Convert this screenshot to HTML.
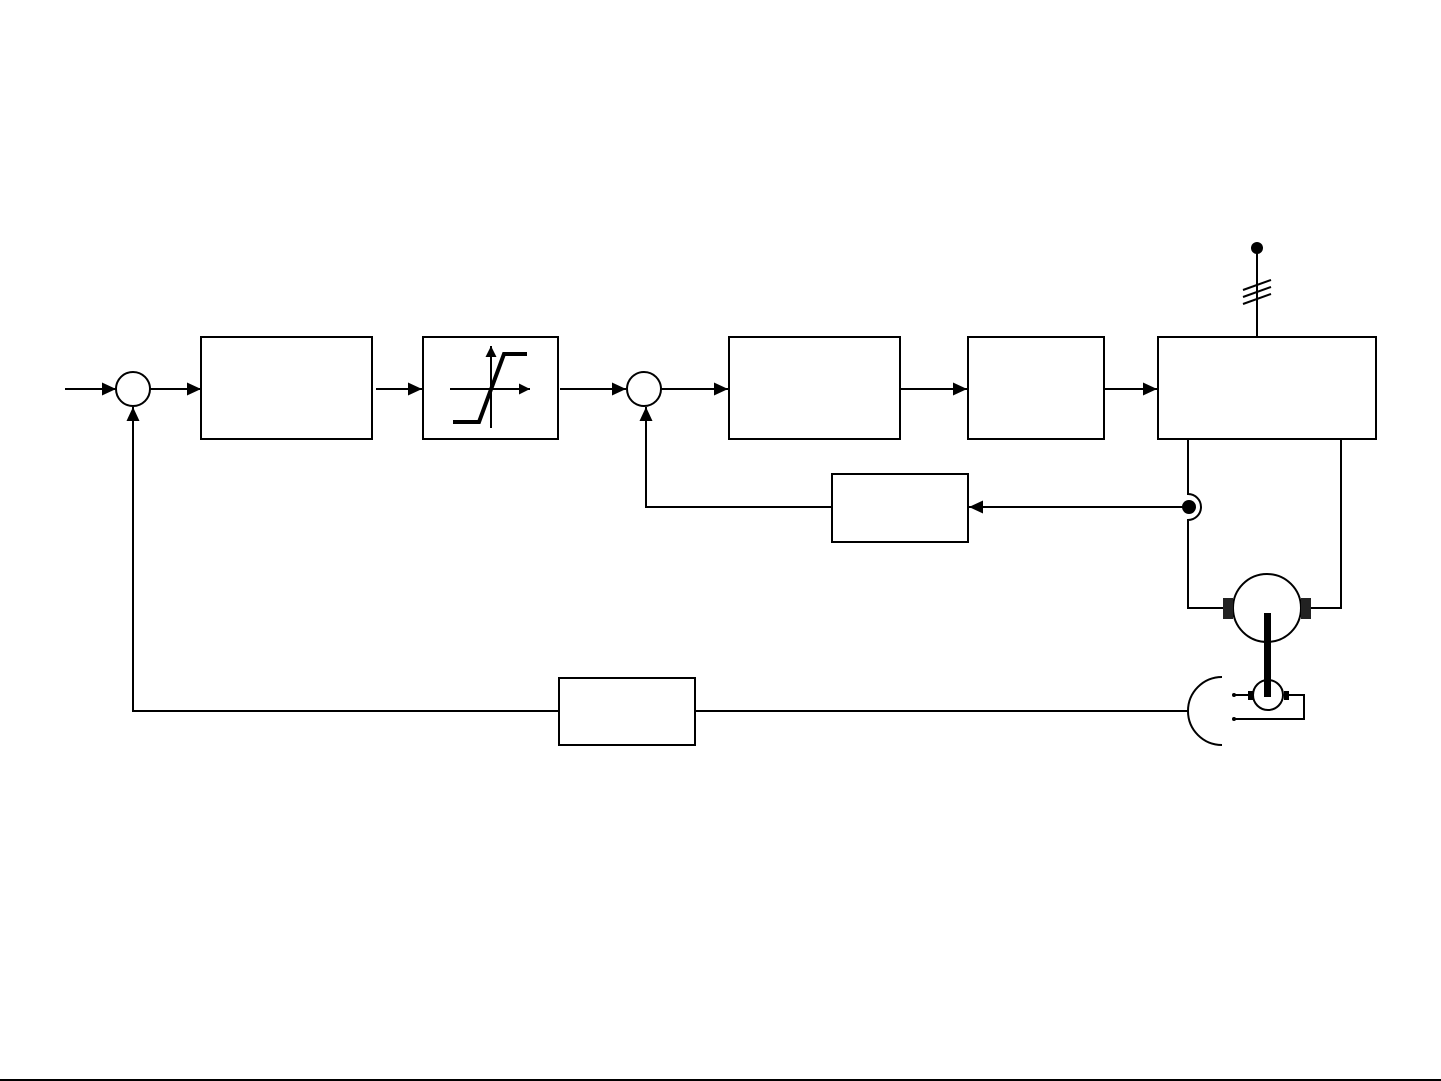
<!DOCTYPE html>
<html><head><meta charset="utf-8"><style>html,body{margin:0;padding:0;background:#fff}svg{display:block}</style></head>
<body>
<svg width="1441" height="1081" viewBox="0 0 1441 1081" xmlns="http://www.w3.org/2000/svg">
<defs>
<marker id="a" markerWidth="15" markerHeight="13" refX="14" refY="6.5" orient="auto" markerUnits="userSpaceOnUse"><path d="M0,0 L14,6.5 L0,13 z" fill="#000"/></marker>
<marker id="b" markerWidth="12" markerHeight="11" refX="11" refY="5.5" orient="auto" markerUnits="userSpaceOnUse"><path d="M0,0 L11,5.5 L0,11 z" fill="#000"/></marker>
</defs>
<g fill="none" stroke="#000" stroke-width="2">
<line x1="65" y1="389" x2="116" y2="389" marker-end="url(#a)"/>
<circle cx="133" cy="389" r="17"/>
<line x1="150" y1="389" x2="201" y2="389" marker-end="url(#a)"/>
<rect x="201" y="337" width="171" height="102"/>
<line x1="376" y1="389" x2="422" y2="389" marker-end="url(#a)"/>
<rect x="423" y="337" width="135" height="102"/>
<line x1="560" y1="389" x2="626" y2="389" marker-end="url(#a)"/>
<circle cx="644" cy="389" r="17"/>
<line x1="661" y1="389" x2="728" y2="389" marker-end="url(#a)"/>
<rect x="729" y="337" width="171" height="102"/>
<line x1="901" y1="389" x2="967" y2="389" marker-end="url(#a)"/>
<rect x="968" y="337" width="136" height="102"/>
<line x1="1105" y1="389" x2="1157" y2="389" marker-end="url(#a)"/>
<rect x="1158" y="337" width="218" height="102"/>
<line x1="450" y1="389" x2="530" y2="389" marker-end="url(#b)"/>
<line x1="491" y1="428" x2="491" y2="346" marker-end="url(#b)"/>
<polyline points="453,422 479,422 504,354 527,354" stroke-width="4"/>
<line x1="1257" y1="248" x2="1257" y2="337"/>
<line x1="1243" y1="290" x2="1271" y2="280"/>
<line x1="1243" y1="297" x2="1271" y2="287"/>
<line x1="1243" y1="304" x2="1271" y2="294"/>
<path d="M1188,439 V494 A13,13 0 0 1 1188,520 V608 H1224"/>
<path d="M1341,439 V608 H1310"/>
<circle cx="1267" cy="608" r="34"/>
<line x1="1188" y1="507" x2="969" y2="507" marker-end="url(#a)"/>
<rect x="832" y="474" width="136" height="68"/>
<path d="M832,507 H646 V407" marker-end="url(#a)"/>
<line x1="695" y1="711" x2="1189" y2="711"/>
<rect x="559" y="678" width="136" height="67"/>
<path d="M559,711 H133 V407" marker-end="url(#a)"/>
<path d="M1222,677 A34,34 0 0 0 1222,745"/>
<circle cx="1268" cy="695" r="15"/>
<line x1="1234" y1="695" x2="1248" y2="695"/>
<path d="M1289,695 H1304 V719 H1234"/>
</g>
<g fill="#000">
<circle cx="1257" cy="248" r="6"/>
<circle cx="1189" cy="507" r="7"/>
<rect x="1223" y="598" width="10" height="21" fill="#222"/>
<rect x="1301" y="598" width="10" height="21" fill="#222"/>
<rect x="1264" y="613" width="7" height="84"/>
<rect x="1248" y="691" width="5" height="9"/>
<rect x="1284" y="691" width="5" height="9"/>
<circle cx="1234" cy="695" r="2"/>
<circle cx="1234" cy="719" r="2"/>
<rect x="0" y="1079" width="1441" height="2"/>
</g>
</svg>
</body></html>
